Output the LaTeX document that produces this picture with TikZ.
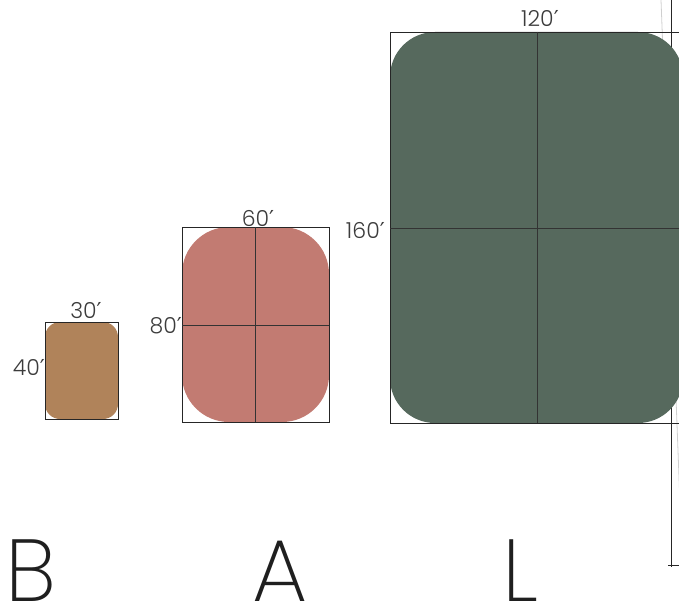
\documentclass[tikz,border=0pt]{standalone}
\usepackage{fontspec}
\setmainfont{Poppins}[UprightFont=* Light]
\newfontfamily\thinfont{Poppins}[UprightFont=* ExtraLight]
\newfontfamily\primefont{DejaVu Sans}
\usepackage{tikz}
\usetikzlibrary{positioning}
\definecolor{SmallFill}{HTML}{B0835A}
\definecolor{MidFill}{HTML}{C27B72}
\definecolor{LargeFill}{HTML}{56695D}
\definecolor{DimInk}{HTML}{3C3C3C}
\definecolor{GuideGray}{HTML}{CFCFCF}
\newcommand{\ft}[1]{#1{\primefont\char"2032}}

\begin{document}
\begin{tikzpicture}[x=1pt,y=-1pt,
  frame/.style={draw=black!85,line width=0.9pt},
  cross/.style={draw=black!80,line width=0.9pt},
  dim/.style={font=\fontsize{22}{22}\selectfont,text=DimInk,inner sep=1pt},
  size/.style={font=\thinfont\fontsize{88}{88}\selectfont,text=black!88}]
  \useasboundingbox (0,0) rectangle (679,610);
  % guides at the right edge
  \draw[GuideGray,line width=0.8pt] (661,0) -- (684,610);
  \draw[black!85,line width=0.9pt] (671,0) -- (671,567);
  \draw[black!85,line width=0.9pt] (668,565) -- (679,565);
  % B
  \fill[SmallFill,rounded corners=15pt] (45,322) rectangle (118,419);
  \draw[frame] (45,322) rectangle (118,419);
  \node[dim,anchor=base] (bw) at (86,318) {\ft{30}};
  \node[dim,anchor=base east] (bh) at (46,375) {\ft{40}};
  % A
  \fill[MidFill,rounded corners=47pt] (182,227) rectangle (329,422);
  \draw[frame] (182,227) rectangle (329,422);
  \draw[cross] (255,227) -- (255,422) (182,325) -- (329,325);
  \node[dim,anchor=base] (aw) at (258,226) {\ft{60}};
  \node[dim,anchor=base east] (ah) at (183,333) {\ft{80}};
  % L
  \fill[LargeFill,rounded corners=45pt] (390,32) rectangle (683,423);
  \draw[frame] (390,32) rectangle (684,423);
  \draw[cross] (537,32) -- (537,423) (390,228) -- (684,228);
  \node[dim,anchor=base] (lw) at (540,27) {\ft{120}};
  \node[dim,anchor=base east] (lh) at (386,238) {\ft{160}};
  % size letters
  \node[size,anchor=base west,inner sep=0pt] (sb) at (5,601) {B};
  \node[size,anchor=base,inner sep=0pt] (sa) at (280,601) {A};
  \node[size,anchor=base west,inner sep=0pt] (sl) at (502,601) {L};
\end{tikzpicture}
\end{document}
